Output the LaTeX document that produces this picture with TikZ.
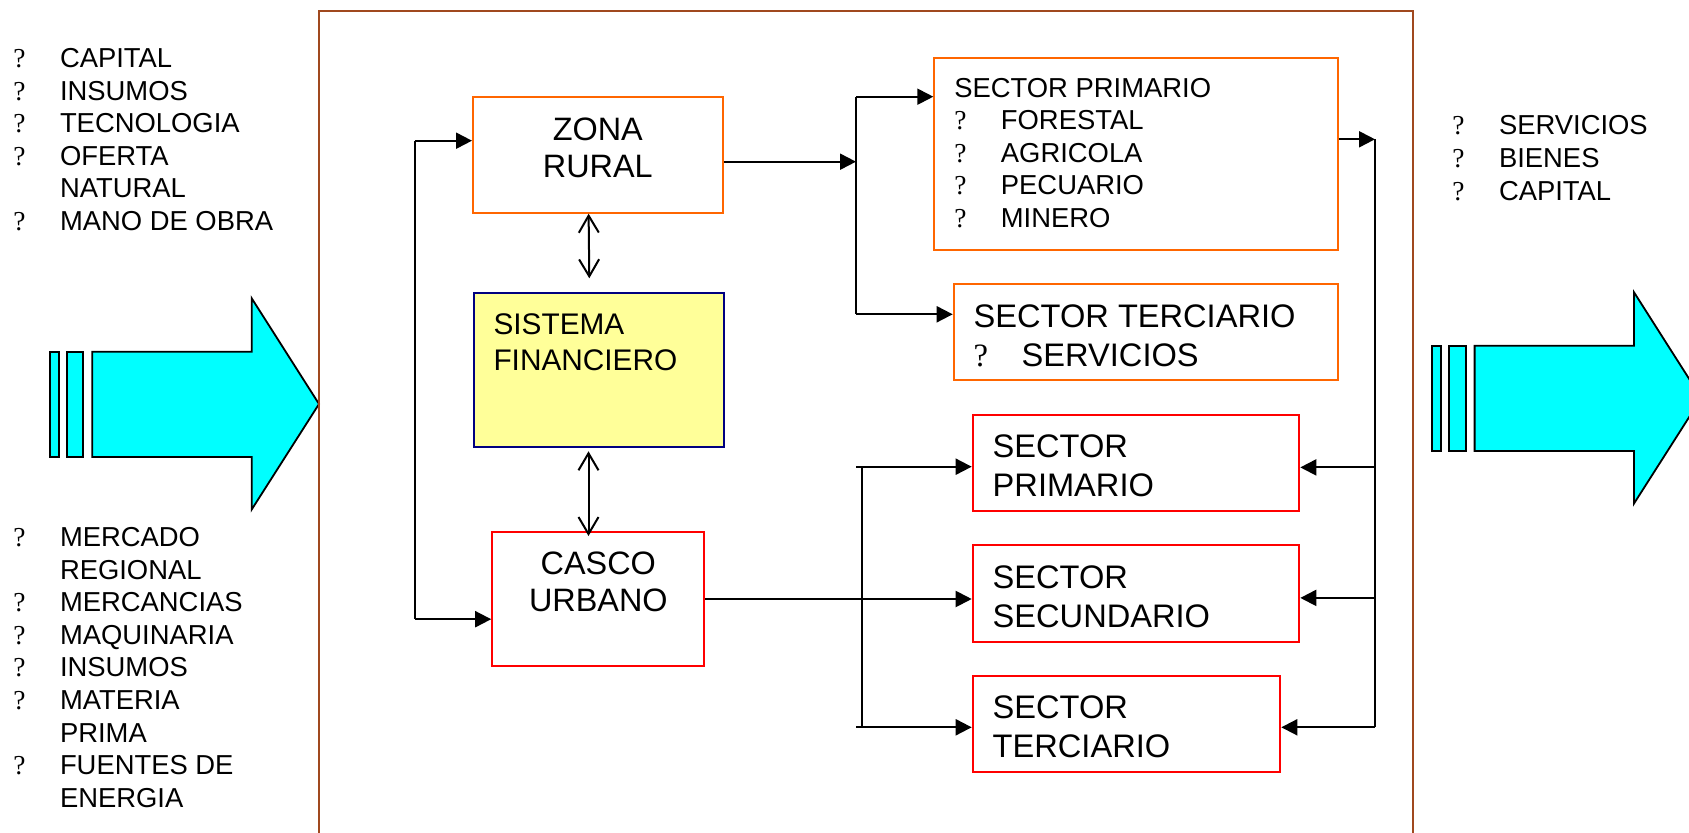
\documentclass[tikz,border=0pt]{standalone}
\usepackage{fontspec}
\setmainfont{Liberation Sans}
\newfontfamily\qfont{Liberation Serif}
\usetikzlibrary{arrows.meta}

\definecolor{marco}{RGB}{160,72,30}
\definecolor{naranja}{RGB}{255,102,0}
\definecolor{rojo}{RGB}{255,0,0}
\definecolor{azul}{RGB}{0,0,128}
\definecolor{amarillo}{RGB}{255,255,153}
\definecolor{celeste}{RGB}{0,255,255}

\newcommand\qm{{\qfont ?}}
\newcommand\itm[2][23.3pt]{\makebox[#1][l]{\qm}#2}
\newcommand\sig[2][23.3pt]{\hspace*{#1}#2}
\newcommand\caja[4]{\parbox[c][#2][t]{#1}{\vspace*{10pt}#3#4}}

\begin{document}
\begin{tikzpicture}[x=0.5pt,y=-0.5pt,>={Triangle[length=8pt,width=8pt]},
  caja/.style={draw,line width=1pt,inner xsep=0pt,inner ysep=0pt,anchor=north west},
  izq/.style={caja,inner xsep=10pt},
  lista/.style={align=left,anchor=north west,inner sep=0pt,font=\fontsize{13.7}{16.3}\selectfont},
  chico/.style={font=\fontsize{13.7}{16.2}\selectfont},
  medio/.style={font=\fontsize{16.2}{18.5}\selectfont},
  grande/.style={font=\fontsize{16.3}{19.5}\selectfont},
  linea/.style={line width=1pt},
  flecha/.style={->,line width=1pt},
  doble/.style={{Straight Barb[length=8.5pt,width=10pt]}-{Straight Barb[length=8.5pt,width=10pt]},line width=1pt},
  bloque/.style={draw=black,fill=celeste,line width=0.9pt}]
\useasboundingbox (0,0) rectangle (1689,833);
\clip (0,0) rectangle (1689,833);

% flechas grandes
\foreach \dx/\dy in {0/0,1382.3/-6}{
  \begin{scope}[shift={(\dx,\dy)}]
    \path[bloque] (50,351.7) rectangle (59,457);
    \path[bloque] (66.7,351.7) rectangle (83.3,457);
    \path[bloque] (92.3,351.7) -- (251.7,351.7) -- (251.7,298.3) -- (319,404)
      -- (251.7,509.5) -- (251.7,457) -- (92.3,457) -- cycle;
  \end{scope}
}

% marco
\draw[marco,line width=1pt] (319,845) -- (319,10.8) -- (1413.3,10.8) -- (1413.3,845);

% listas
\node[lista] (entra) at (13,48) {\itm{CAPITAL}\\\itm{INSUMOS}\\\itm{TECNOLOGIA}\\\itm{OFERTA}\\\sig{NATURAL}\\\itm{MANO DE OBRA}};
\node[lista] (mercado) at (13,527) {\itm{MERCADO}\\\sig{REGIONAL}\\\itm{MERCANCIAS}\\\itm{MAQUINARIA}\\\itm{INSUMOS}\\\itm{MATERIA}\\\sig{PRIMA}\\\itm{FUENTES DE}\\\sig{ENERGIA}};
\node[lista] (sale) at (1452,115.3) {\itm{SERVICIOS}\\\itm{BIENES}\\\itm{CAPITAL}};

% cajas
\node[caja,draw=naranja,medio] (zona) at (472,96.5) {\caja{124.8pt}{57.6pt}{\centering}{ZONA\\RURAL}};
\node[izq,draw=azul,fill=amarillo,font=\fontsize{14.9}{18.4}\selectfont] (fin) at (472.5,292.3) {\caja{105pt}{77pt}{\raggedright}{SISTEMA\\FINANCIERO}};
\node[caja,draw=rojo,medio] (casco) at (491.2,531) {\caja{106.1pt}{67pt}{\centering}{CASCO\\URBANO}};
\node[izq,draw=naranja,chico] (sp) at (933.3,57.3) {\caja{181.7pt}{96pt}{\raggedright}{SECTOR PRIMARIO\\\itm{FORESTAL}\\\itm{AGRICOLA}\\\itm{PECUARIO}\\\itm{MINERO}}};
\node[izq,draw=naranja,grande] (st) at (952.7,283.3) {\caja{172pt}{48pt}{\raggedright}{SECTOR TERCIARIO\\\itm[24pt]{SERVICIOS}}};
\node[izq,draw=rojo,grande] (rp) at (971.7,414) {\caja{143.3pt}{48pt}{\raggedright}{SECTOR\\PRIMARIO}};
\node[izq,draw=rojo,grande] (rs) at (971.7,544.3) {\caja{143.3pt}{48.2pt}{\raggedright}{SECTOR\\SECUNDARIO}};
\node[izq,draw=rojo,grande] (rt) at (971.7,675) {\caja{133.8pt}{48pt}{\raggedright}{SECTOR\\TERCIARIO}};

% conexiones
\coordinate (izq1) at (415,140.7);
\coordinate (izq2) at (415,619.2);
\draw[linea] (izq1) -- (izq2);
\draw[flecha] (izq1) -- (izq1 -| zona.west);
\draw[flecha] (izq2) -- (izq2 -| casco.west);

\draw[doble] ([xshift=-4.6pt]zona.south) -- ([xshift=-4.6pt,yshift=7pt]fin.north);
\draw[doble] ([xshift=-5pt,yshift=-1.5pt]fin.south) -- ([xshift=-4.9pt,yshift=-2.5pt]casco.north);

\coordinate (rur1) at (856,96.7);
\coordinate (rurm) at (856,161.7);
\coordinate (rur2) at (856,314.3);
\draw[linea] (rur1) -- (rur2);
\draw[flecha] (zona.east |- rurm) -- (rurm);
\draw[flecha] (rur1) -- (rur1 -| sp.west);
\draw[flecha] (rur2) -- (rur2 -| st.west);

\coordinate (der1) at (1375,139.3);
\coordinate (der2) at (1375,727.3);
\draw[linea] (der1) -- (der2);
\draw[flecha] (sp.east |- der1) -- (der1);
\draw[flecha] ([yshift=-2.2pt]rp.east -| der1) -- ([yshift=-2.2pt]rp.east);
\draw[flecha] ([yshift=-2.2pt]rs.east -| der1) -- ([yshift=-2.2pt]rs.east);
\draw[flecha] (der2) -- (der2 -| rt.east);

\coordinate (urb1) at (862.3,466.7);
\coordinate (urb2) at (862.3,727.3);
\draw[linea] (urb1) -- (urb2);
\draw[flecha] ([xshift=-3pt]urb1) -- (urb1 -| rp.west);
\draw[flecha] (casco.east) -- (casco.east -| rs.west);
\draw[flecha] ([xshift=-3pt]urb2) -- (urb2 -| rt.west);
\end{tikzpicture}
\end{document}
